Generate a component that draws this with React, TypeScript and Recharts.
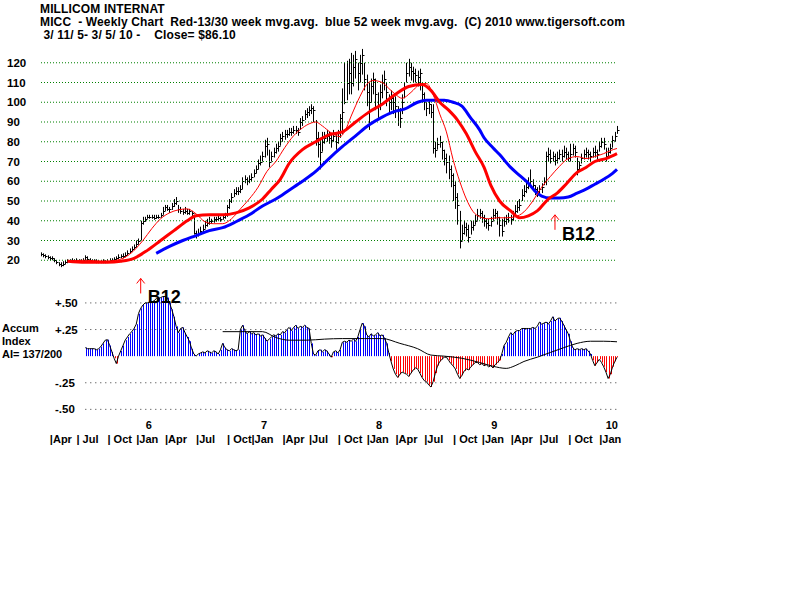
import {
  Bar,
  ComposedChart,
  Line,
  ReferenceDot,
  ReferenceLine,
  XAxis,
  YAxis,
} from "recharts";

const FONT = '"Liberation Sans", Arial, sans-serif';

const titleLines = [
  "MILLICOM INTERNAT",
  "MICC  - Weekly Chart  Red-13/30 week mvg.avg.  blue 52 week mvg.avg.  (C) 2010 www.tigersoft.com",
  " 3/ 11/ 5- 3/ 5/ 10 -    Close= $86.10",
];
const aiCaption = ["Accum", "Index", "AI= 137/200"];

// weekly bars, 3/11/05 .. 3/5/10 (week index 0..260)
const weekHigh = [
  24, 23.5, 23, 22.5, 22, 22, 21, 20, 19, 19,
  19.5, 20, 20.5, 20.5, 21, 20.5, 21, 20.5, 20.5, 21,
  22.5, 22, 21, 20.5, 20.5, 20.5, 20, 20, 20.5, 20,
  20.5, 21, 21, 21.5, 22, 23, 23, 23.5, 24, 25,
  26, 27, 28, 30, 31, 40, 42, 42, 43, 43,
  43, 43, 43, 43, 44, 47, 48, 48, 47, 49,
  51, 52, 48, 47, 46, 47, 46, 46, 45, 43,
  35, 36, 37, 38, 40, 41, 42, 41, 42, 42,
  43, 42, 43, 44, 48, 51, 54, 56, 57, 57,
  58, 62, 63, 62, 63, 64, 66, 68, 71, 73,
  75, 81, 82, 76, 75, 77, 79, 80, 84, 85,
  86, 86, 87, 87, 88, 88, 87, 92, 93, 96,
  97, 98, 99, 98, 91, 85, 82, 85, 85, 86,
  85, 84, 86, 84, 86, 94, 107, 120, 121, 122,
  125, 124, 126, 120, 124, 127, 120, 114, 110, 112,
  115, 112, 105, 109, 114, 116, 110, 104, 106, 104,
  103, 98, 97, 104, 110, 120, 122, 120, 118, 117,
  116, 117, 110, 105, 100, 101, 99, 99, 80, 82,
  83, 80, 76, 74, 73, 68, 64, 60, 54, 45,
  38, 40, 39, 38, 40, 40, 43, 46, 46, 45,
  43, 41, 41, 42, 46, 46, 45, 42, 41, 42,
  43, 44, 43, 45, 48, 50, 51, 56, 58, 60,
  62, 66, 61, 58, 57, 58, 59, 62, 75, 77,
  76, 75, 74, 75, 76, 76, 78, 77, 75, 79,
  79, 78, 72, 70, 74, 76, 77, 76, 75, 77,
  78, 76, 80, 82, 82, 77, 77, 79, 83, 85,
  88,
];

const weekLow = [
  22, 21.5, 21, 20.5, 20, 20, 19, 18, 17, 16.5,
  17, 18, 18.5, 19, 19, 19, 19, 19, 19, 19,
  20, 19.5, 19, 19, 19, 18.5, 18.5, 18.5, 18.5, 18.5,
  19, 19, 19.5, 19.5, 20, 20.5, 21, 21, 21.5, 22.5,
  23.5, 24.5, 25.5, 26.5, 28, 30, 38, 39.5, 41, 41,
  41, 40.5, 41, 41, 41.5, 43, 45, 45, 44, 45.5,
  47, 48, 44, 43.5, 43, 43.5, 43, 43, 42, 33,
  31, 32, 33, 34, 36, 37, 38, 38.5, 39, 39.5,
  40, 39.5, 40.5, 41, 42, 46, 49, 52, 53, 53,
  54, 56, 59, 58, 59, 60, 62, 64, 66, 68,
  70, 72, 73, 67, 70, 72, 74, 75, 78, 80,
  81, 82, 83, 83, 84, 84, 83, 86, 88, 91,
  92, 93, 94, 90, 78, 72, 66, 75, 79, 80,
  79, 77, 80, 76, 79, 82, 84, 99, 101, 104,
  104, 108, 112, 106, 110, 114, 106, 98, 86, 100,
  104, 96, 92, 96, 102, 106, 98, 95, 96, 94,
  92, 88, 87, 94, 102, 110, 113, 111, 110, 110,
  108, 106, 100, 96, 93, 94, 92, 74, 72, 76,
  77, 71, 68, 64, 61, 57, 50, 46, 38, 26,
  30, 33, 32, 29, 33, 35, 38, 40, 41, 39,
  37, 36, 35, 37, 40, 41, 38, 32, 32, 37,
  38, 39, 38, 40, 42, 44, 45, 50, 52, 54,
  56, 57, 55, 53, 52, 53, 54, 58, 58, 70,
  69, 70, 68, 69, 71, 70, 72, 71, 70, 70,
  73, 72, 63, 65, 69, 71, 72, 71, 70, 72,
  72, 71, 75, 77, 76, 70, 72, 74, 77, 80,
  84,
];

const weekClose = [
  23, 22.5, 22, 21.5, 21, 21, 20, 19, 18, 17.5,
  18, 19, 19.5, 19.5, 20, 19.5, 20, 19.5, 19.5, 20,
  21.5, 20.5, 20, 19.5, 19.5, 19.5, 19, 19, 19.5, 19,
  19.5, 20, 20, 20.5, 21, 21.5, 22, 22, 22.5, 23.5,
  24.5, 25.5, 26.5, 28, 30, 39, 40, 41, 42, 42,
  42, 41.5, 42, 42, 43, 45, 47, 46, 46, 47.5,
  49, 50, 46, 45, 44.5, 45, 44, 45, 44, 34,
  33, 34, 35, 36, 38, 39, 40, 40, 41, 41,
  41.5, 41, 42, 43, 47, 50, 52, 54, 55, 55,
  56, 60, 61, 60, 61, 62, 64, 66, 69, 70,
  73, 78, 79, 70, 73, 75, 77, 78, 82, 83,
  84, 84, 85, 85, 86, 86, 85, 90, 91, 94,
  95, 96, 97, 96, 82, 79, 75, 80, 82, 83,
  82, 81, 83, 80, 83, 92, 95, 100, 110, 115,
  110, 118, 122, 115, 120, 124, 112, 105, 100, 108,
  112, 104, 98, 105, 110, 112, 105, 100, 102, 100,
  98, 96, 92, 100, 107, 115, 118, 116, 115, 114,
  113, 115, 104, 101, 97, 99, 95, 77, 76, 79,
  80, 76, 72, 70, 66, 63, 58, 52, 48, 30,
  34, 37, 36, 32, 37, 38, 40, 43, 44, 42,
  40, 39, 38, 40, 43, 44, 42, 38, 35, 40,
  41, 42, 41, 43, 45, 47, 48, 53, 55, 57,
  59, 60, 58, 56, 55, 56, 57, 60, 73, 74,
  72, 73, 71, 72, 74, 73, 75, 74, 72, 74,
  77, 75, 66, 68, 72, 74, 75, 74, 73, 75,
  75, 74, 78, 80, 79, 73, 75, 77, 81, 83,
  86.1,
];

// moving averages: [week, value]
const ma13Points = [
  [12, 19.5], [20, 20], [28, 19.5], [34, 20], [40, 23], [46, 30], [50, 36], [54, 41],
  [58, 44], [62, 45.5], [66, 46], [70, 43.5], [74, 39.5], [78, 38.5], [82, 38.5], [86, 41],
  [90, 46], [94, 51], [98, 57], [102, 65], [106, 70], [110, 77], [114, 83], [118, 87],
  [122, 89.5], [124, 90], [127, 88], [131, 84.5], [135, 82.6], [137, 85], [140, 93], [144, 103],
  [147, 109], [150, 111], [154, 110], [157, 107], [160, 104], [163, 102], [167, 105], [171, 109],
  [174, 109.5], [177, 104], [180, 94], [183, 85], [186, 71], [189, 60], [192, 51], [195, 44.7],
  [198, 42], [202, 41], [206, 41.5], [210, 41.5], [214, 42], [218, 44.5], [222, 50], [226, 57],
  [230, 62.5], [234, 67.5], [238, 71.5], [242, 72.5], [246, 71.5], [250, 72.5], [254, 74],
  [257, 75.5], [260, 76.6],
];
const ma30Points = [
  [12, 19.5], [20, 19], [30, 19], [36, 19.5], [42, 21], [48, 25], [54, 30], [60, 35],
  [66, 40], [70, 42.5], [76, 43], [82, 43], [88, 44], [94, 46.5], [100, 51], [104, 56],
  [108, 61], [112, 69], [118, 76], [124, 80], [130, 83.5], [136, 85], [142, 90], [148, 95],
  [154, 99], [160, 104], [166, 108], [172, 109], [176, 106], [180, 100], [184, 96], [188, 91],
  [192, 84], [196, 75], [200, 67], [203, 58], [207, 50], [212, 45], [216, 41.5], [220, 42.5],
  [224, 45], [229, 51], [233, 54], [237, 58.5], [242, 64.5], [246, 67], [250, 70], [255, 71.5],
  [260, 74],
];
const ma52Points = [
  [52, 23.5], [58, 27], [64, 30], [70, 32.5], [76, 35], [82, 36.5], [88, 39.5], [94, 43],
  [100, 47.5], [106, 51], [112, 55.5], [118, 60], [124, 65], [130, 71.5], [136, 77.5],
  [142, 83], [148, 88.5], [154, 92.5], [160, 95.5], [164, 96.5], [170, 100], [174, 101],
  [178, 101], [182, 101], [186, 100], [190, 98], [194, 92], [198, 86], [200, 82], [204, 77],
  [207, 73.5], [212, 67], [216, 63], [220, 59], [223, 55], [226, 52.5], [230, 51.5],
  [234, 51.5], [238, 52], [242, 54], [246, 56], [250, 58.5], [254, 61], [258, 64], [260, 66],
];

// accumulation index, weekly from week 20
const aiStartWeek = 20;
const aiValues = [
  0.08, 0.07, 0.07, 0.07, 0.07, 0.06, 0.07, 0.09, 0.12, 0.15,
  0.155, 0.1, 0.04, -0.02, -0.07, 0.0, 0.05, 0.1, 0.15, 0.18,
  0.21, 0.23, 0.26, 0.3, 0.4, 0.45, 0.48, 0.5, 0.5, 0.51,
  0.51, 0.52, 0.54, 0.54, 0.55, 0.56, 0.56, 0.55, 0.5, 0.44,
  0.37, 0.28, 0.22, 0.26, 0.27, 0.22, 0.18, 0.14, 0.07, 0.02,
  0.0, 0.02, 0.03, 0.04, 0.03, 0.05, 0.04, 0.03, 0.05, 0.04,
  0.02, 0.06, 0.12, 0.08, 0.06, 0.05, 0.07, 0.06, 0.05, 0.06,
  0.25, 0.29, 0.24, 0.21, 0.23, 0.21, 0.22, 0.2, 0.21, 0.19,
  0.2, 0.17, 0.14, 0.16, 0.18, 0.2, 0.19, 0.21, 0.2, 0.23,
  0.22, 0.25, 0.27, 0.24, 0.27, 0.29, 0.26, 0.28, 0.27, 0.29,
  0.27, 0.26, 0.12, 0.02, 0.01, 0.05, 0.06, 0.04, 0.06, 0.05,
  0.02, -0.01, 0.04, 0.05, 0.03, 0.06, 0.13, 0.14, 0.13, 0.15,
  0.14, 0.16, 0.14, 0.18, 0.25, 0.31, 0.28, 0.2, 0.18, 0.21,
  0.19, 0.2, 0.22, 0.19, 0.2, 0.17, 0.12, 0.03, -0.05, -0.12,
  -0.17, -0.2, -0.17, -0.15, -0.16, -0.17, -0.19, -0.16, -0.13, -0.11,
  -0.12, -0.16, -0.2, -0.23, -0.24, -0.27, -0.29, -0.24, -0.16, -0.09,
  -0.05, -0.03, -0.01, -0.01, -0.04, -0.07, -0.09, -0.12, -0.17, -0.21,
  -0.18, -0.14, -0.12, -0.13, -0.1, -0.08, -0.06, -0.06, -0.08, -0.07,
  -0.09, -0.08, -0.1, -0.09, -0.11, -0.08, -0.06, -0.04, 0.02, 0.1,
  0.13, 0.18, 0.22, 0.2, 0.23, 0.24, 0.24, 0.26, 0.26, 0.26,
  0.26, 0.26, 0.27, 0.26, 0.28, 0.32, 0.3, 0.31, 0.32, 0.3,
  0.33, 0.37, 0.33, 0.35, 0.36, 0.33, 0.29, 0.25, 0.21, 0.14,
  0.08, 0.06, 0.07, 0.06, 0.07, 0.06, 0.07, 0.05, 0.02, -0.04,
  -0.09, -0.06, -0.03, -0.06, -0.1, -0.15, -0.21, -0.17, -0.1, -0.05,
  -0.01,
];
const aiAvgPoints = [
  [82, 0.23], [90, 0.23], [100, 0.23], [106, 0.175], [112, 0.15], [120, 0.15], [128, 0.16],
  [136, 0.165], [146, 0.165], [154, 0.165], [162, 0.12], [170, 0.07], [176, 0.01], [182, 0.0],
  [190, -0.02], [198, -0.06], [204, -0.095], [210, -0.115], [214, -0.09], [218, -0.05],
  [224, -0.01], [230, 0.035], [236, 0.08], [242, 0.12], [248, 0.14], [254, 0.14], [260, 0.135],
];

const priceTicks = [20, 30, 40, 50, 60, 70, 80, 90, 100, 110, 120];
const aiTicks = [0.5, 0.25, -0.25, -0.5];
const aiTickLabels = ["+.50", "+.25", "-.25", "-.50"];
const monthWeeks = [4, 16, 30, 43, 56, 70, 84, 95, 109, 121, 134, 147, 160, 173, 186, 199, 212, 225, 238, 252];
const monthLabels = [
  "|Apr", "| Jul", "| Oct", "|Jan", "|Apr", "|Jul", "| Oct", "|Jan", "|Apr", "|Jul",
  "| Oct", "|Jan", "|Apr", "|Jul", "| Oct", "|Jan", "|Apr", "|Jul", "| Oct", "|Jan",
];
const yearWeeks = [43, 95, 147, 199, 252];
const yearLabels = ["6", "7", "8", "9", "10"];

const b12Price = { week: 232, level: 43 };
const b12Ai = { week: 45, level: 0.73 };

const lastWeek = weekClose.length - 1;

const priceRows = weekClose.map((close, i) => ({
  week: i,
  range: [weekLow[i], weekHigh[i]],
  close,
  ma13: null as number | null,
  ma30: null as number | null,
  ma52: null as number | null,
}));
ma13Points.forEach(([w, v]) => (priceRows[w].ma13 = v));
ma30Points.forEach(([w, v]) => (priceRows[w].ma30 = v));
ma52Points.forEach(([w, v]) => (priceRows[w].ma52 = v));

const aiRows = aiValues.map((ai, k) => ({
  week: aiStartWeek + k,
  ai,
  avg: null as number | null,
}));
aiAvgPoints.forEach(([w, v]) => (aiRows[w - aiStartWeek].avg = v));

const OhlcBar = (props: any) => {
  const { x, y, width, height, payload } = props;
  if (x == null || !payload) return null;
  const top = Math.min(y, y + height);
  const h = Math.abs(height);
  const [lo, hi] = payload.range;
  const cx = Math.round(x + width / 2) + 0.5;
  const cy = hi > lo ? top + ((hi - payload.close) / (hi - lo)) * h : top;
  const ty = Math.round(cy) + 0.5;
  return (
    <g>
      <line x1={cx} x2={cx} y1={top} y2={top + Math.max(h, 1)} stroke="#000" />
      <line x1={cx} x2={cx + 2} y1={ty} y2={ty} stroke="#000" />
    </g>
  );
};

const AiStripe = (props: any) => {
  const { x, y, width, height, payload } = props;
  if (x == null || !payload) return null;
  const cx = Math.round(x + width / 2) + 0.5;
  return (
    <line
      x1={cx}
      x2={cx}
      y1={y}
      y2={y + height}
      stroke={payload.ai < 0 ? "#ff0000" : "#0000ff"}
    />
  );
};

const B12Mark = ({ cx, cy }: any) => (
  <g>
    <path
      d={`M${cx} ${cy} L${cx} ${cy + 15} M${cx - 4} ${cy + 5} L${cx} ${cy} L${cx + 4} ${cy + 5}`}
      stroke="#ff0000"
      fill="none"
    />
    <text x={cx + 7} y={cy + 25} fontSize={18} fontWeight="bold" fontFamily={FONT} fill="#000">
      B12
    </text>
  </g>
);

const PriceTick = ({ y, payload }: any) => (
  <text x={7} y={y} dy={4} fontSize={11.5} fontWeight="bold" fontFamily={FONT} fill="#000">
    {payload.value}
  </text>
);

const AiTick = ({ y, payload }: any) => (
  <text x={55} y={y} dy={4} fontSize={11.5} fontWeight="bold" fontFamily={FONT} fill="#000">
    {aiTickLabels[aiTicks.indexOf(payload.value)]}
  </text>
);

const MonthTick = ({ x, y, payload }: any) => {
  const m = monthWeeks.indexOf(payload.value);
  const yr = yearWeeks.indexOf(payload.value);
  return (
    <g fontSize={11} fontWeight="bold" fontFamily={FONT} fill="#000">
      {yr >= 0 && (
        <text x={x + 12.5} y={y} dy={9} textAnchor="middle">
          {yearLabels[yr]}
        </text>
      )}
      <text x={x} y={y} dy={23} style={{ whiteSpace: "pre" }}>
        {monthLabels[m]}
      </text>
    </g>
  );
};

export default function App() {
  return (
    <div
      style={{
        position: "absolute",
        left: 0,
        top: 0,
        width: 800,
        height: 600,
        background: "#fff",
        fontFamily: FONT,
        fontWeight: "bold",
        color: "#000",
      }}
    >
      {titleLines.map((t, k) => (
        <div
          key={t}
          style={{
            position: "absolute",
            left: 40,
            top: 3 + k * 13,
            fontSize: 12,
            lineHeight: "13px",
            letterSpacing: 0.14,
            whiteSpace: "pre",
          }}
        >
          {t}
        </div>
      ))}
      {aiCaption.map((t, k) => (
        <div
          key={t}
          style={{
            position: "absolute",
            left: 2,
            top: 322 + k * 13,
            fontSize: 11,
            lineHeight: "13px",
            whiteSpace: "pre",
          }}
        >
          {t}
        </div>
      ))}

      <div style={{ position: "absolute", left: 0, top: 0 }}>
        <ComposedChart
          width={800}
          height={290}
          data={priceRows}
          margin={{ top: 43, right: 183, bottom: 10, left: 0 }}
        >
          <XAxis dataKey="week" type="number" domain={[0, lastWeek]} hide />
          <YAxis
            domain={[10, 130]}
            ticks={priceTicks}
            interval={0}
            width={41}
            axisLine={false}
            tickLine={false}
            tick={(p: any) => <PriceTick {...p} />}
            allowDataOverflow
          />
          {priceTicks.map((t) => (
            <ReferenceLine
              key={t}
              y={t}
              stroke="#008000"
              strokeDasharray="1 2"
            />
          ))}
          <Bar
            dataKey="range"
            barSize={2}
            shape={(p: any) => <OhlcBar {...p} />}
            isAnimationActive={false}
          />
          <Line
            dataKey="ma52"
            type="monotone"
            stroke="#0000ff"
            strokeWidth={3}
            dot={false}
            connectNulls
            isAnimationActive={false}
          />
          <Line
            dataKey="ma30"
            type="monotone"
            stroke="#ff0000"
            strokeWidth={3}
            dot={false}
            connectNulls
            isAnimationActive={false}
          />
          <Line
            dataKey="ma13"
            type="monotone"
            stroke="#ff0000"
            strokeWidth={1}
            dot={false}
            connectNulls
            isAnimationActive={false}
          />
          <ReferenceDot
            x={b12Price.week}
            y={b12Price.level}
            r={0}
            shape={(p: any) => <B12Mark cx={p.cx} cy={p.cy} />}
          />
        </ComposedChart>
      </div>

      <div style={{ position: "absolute", left: 0, top: 270 }}>
        <ComposedChart
          width={800}
          height={180}
          data={aiRows}
          margin={{ top: 1, right: 183, bottom: 0, left: 0 }}
        >
          <XAxis
            dataKey="week"
            type="number"
            domain={[0, lastWeek]}
            ticks={monthWeeks}
            interval={0}
            height={30}
            axisLine={false}
            tickLine={false}
            tickSize={0}
            tickMargin={0}
            tick={(p: any) => <MonthTick {...p} />}
          />
          <YAxis
            domain={[-0.6, 0.8]}
            ticks={aiTicks}
            interval={0}
            width={41}
            axisLine={false}
            tickLine={false}
            tick={(p: any) => <AiTick {...p} />}
            allowDataOverflow
          />
          {aiTicks.map((t) => (
            <ReferenceLine
              key={t}
              segment={[
                { x: aiStartWeek, y: t },
                { x: lastWeek, y: t },
              ]}
              stroke="#333"
              strokeDasharray="1 4"
            />
          ))}
          <Bar
            dataKey="ai"
            barSize={1}
            shape={(p: any) => <AiStripe {...p} />}
            isAnimationActive={false}
          />
          <Line
            dataKey="ai"
            type="linear"
            stroke="#000"
            strokeWidth={1}
            dot={false}
            isAnimationActive={false}
          />
          <Line
            dataKey="avg"
            type="monotone"
            stroke="#000"
            strokeWidth={1}
            dot={false}
            connectNulls
            isAnimationActive={false}
          />
          <ReferenceDot
            x={b12Ai.week}
            y={b12Ai.level}
            r={0}
            shape={(p: any) => <B12Mark cx={p.cx} cy={p.cy} />}
          />
        </ComposedChart>
      </div>
    </div>
  );
}
